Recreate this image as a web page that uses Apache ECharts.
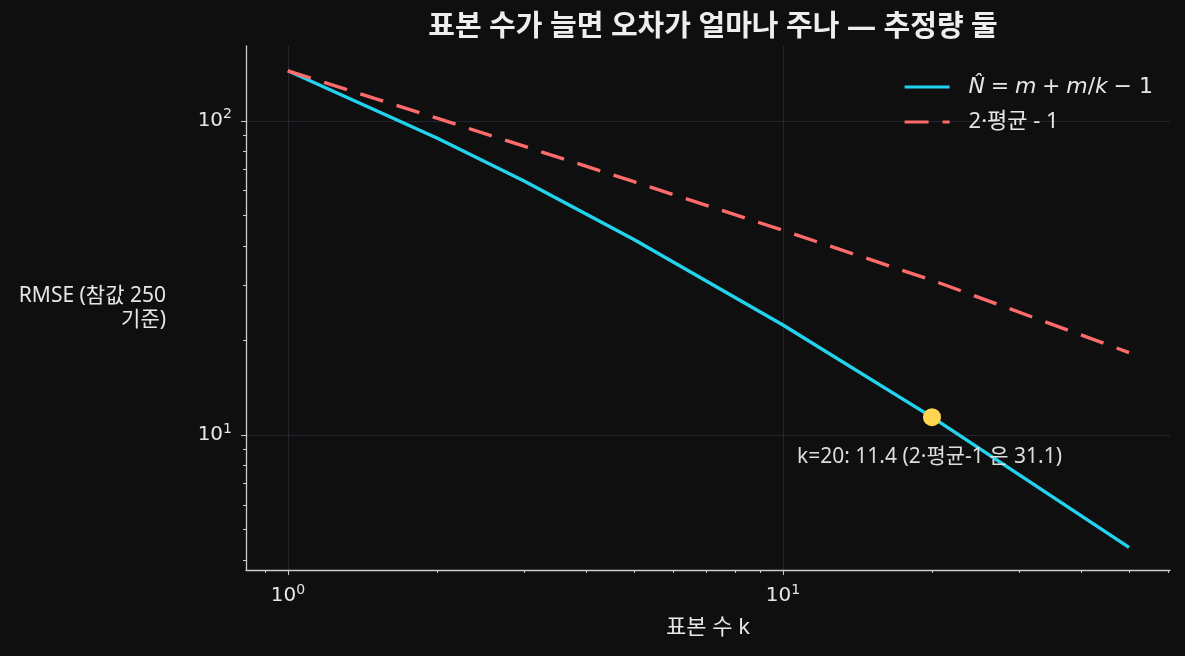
<!DOCTYPE html>
<html>
<head>
<meta charset="utf-8">
<title>표본 수와 RMSE</title>
<script src="https://cdn.jsdelivr.net/npm/echarts@6/dist/echarts.min.js"></script>
<style>
  html, body { margin: 0; padding: 0; background: #0f0f0f; }
  #chart { width: 1185px; height: 656px; }
</style>
</head>
<body>
<div id="chart"></div>
<script>
// sample sizes and RMSE (true value 250)
var kValues = [1, 2, 3, 5, 10, 20, 50];
var rmseTank = [144.3, 88.2, 64.3, 41.9, 22.4, 11.4, 4.39];
var rmseMean = [144.3, 101.9, 83.0, 64.0, 44.8, 31.1, 18.3];

// highlighted point
var markK = 20;
var markTank = 11.4;
var markMean = 31.1;

// axis ranges
var xMin = 0.823, xMax = 60.5;
var yMin = 3.72, yMax = 173;

// ticks (powers of ten get labels, the rest are minor)
var xMajorTicks = [1, 10];
var xTickExp = ['0', '1'];
var xMinorTicks = [0.9, 2, 3, 4, 5, 6, 7, 8, 9, 20, 30, 40, 50, 60];
var yMajorTicks = [10, 100];
var yTickExp = ['1', '2'];
var yMinorTicks = [4, 5, 6, 7, 8, 9, 20, 30, 40, 50, 60, 70, 80, 90];

var tankName = 'N̂ = m + m/k − 1';
var meanName = '2·평균 - 1';

var CJK = "'Noto Sans', 'Noto Sans CJK KR', sans-serif";
var TEXT = '#e6e6e6';
var AXIS = '#cccccc';
var GRID = '#25252f';

function toLog(arr) {
    return arr.map(function (v) { return Math.log10(v); });
}

// 10^n labels, looked up by tick value
function powLabel(majors, exps) {
    var logs = toLog(majors);
    return function (value) {
        var exp = '';
        for (var i = 0; i < logs.length; i++) {
            if (Math.abs(logs[i] - value) < 1e-6) exp = exps[i];
        }
        return '{b|10}{s|' + exp + '}';
    };
}

var powRich = {
    b: { fontFamily: 'DejaVu Sans', fontSize: 20, color: TEXT, lineHeight: 26 },
    s: { fontFamily: 'DejaVu Sans', fontSize: 14, color: TEXT, verticalAlign: 'top', lineHeight: 14 }
};

function pairs(xs, ys) {
    return xs.map(function (x, i) { return [x, ys[i]]; });
}

var chart = echarts.init(document.getElementById('chart'), null, { renderer: 'canvas' });

var option = {
    backgroundColor: '#0f0f0f',
    animation: false,
    title: {
        text: '표본 수가 늘면 오차가 얼마나 주나 — 추정량 둘',
        left: 708,
        top: 8,
        textAlign: 'center',
        textStyle: { color: '#eeeeee', fontSize: 29, fontWeight: 'bold', fontFamily: CJK }
    },
    legend: {
        data: [tankName, meanName],
        orient: 'vertical',
        left: 903,
        top: 74,
        padding: 0,
        itemWidth: 45,
        itemHeight: 14,
        itemGap: 9,
        itemStyle: { opacity: 0 },
        lineStyle: { width: 3.2 },
        formatter: function (name) {
            if (name === tankName) {
                return '{i|N̂} {m|=} {i|m} {m|+} {i|m}{m|/}{i|k} {m|− 1}';
            }
            return name;
        },
        textStyle: {
            color: TEXT,
            fontSize: 22,
            lineHeight: 26,
            fontFamily: CJK,
            padding: [0, 0, 0, 14],
            rich: {
                i: { fontFamily: 'DejaVu Sans', fontStyle: 'italic', fontSize: 22, color: TEXT, lineHeight: 26 },
                m: { fontFamily: 'DejaVu Sans', fontSize: 22, color: TEXT, lineHeight: 26 }
            }
        }
    },
    grid: { left: 246, right: 15, top: 46, bottom: 86 },
    xAxis: [
        // data axis
        { type: 'log', logBase: 10, min: xMin, max: xMax, show: false },
        // major ticks, labels, grid
        {
            type: 'value', position: 'bottom',
            min: Math.log10(xMin), max: Math.log10(xMax),
            name: '표본 수 k', nameLocation: 'middle', nameGap: 58, nameMoveOverlap: false,
            nameTextStyle: { color: TEXT, fontSize: 22, fontFamily: CJK, verticalAlign: 'middle' },
            axisLine: { show: true, onZero: false, lineStyle: { color: AXIS, width: 1.3 } },
            axisTick: { show: true, length: 5, customValues: toLog(xMajorTicks), lineStyle: { color: AXIS } },
            axisLabel: { customValues: toLog(xMajorTicks), formatter: powLabel(xMajorTicks, xTickExp), rich: powRich, margin: 13 },
            splitLine: { show: true, lineStyle: { color: GRID, width: 1 } }
        },
        // minor ticks
        {
            type: 'value', position: 'bottom',
            min: Math.log10(xMin), max: Math.log10(xMax),
            axisLine: { show: false, onZero: false },
            axisTick: { show: true, length: 3, customValues: toLog(xMinorTicks), lineStyle: { color: AXIS } },
            axisLabel: { show: false },
            splitLine: { show: false }
        }
    ],
    yAxis: [
        { type: 'log', logBase: 10, min: yMin, max: yMax, show: false },
        {
            type: 'value', position: 'left',
            min: Math.log10(yMin), max: Math.log10(yMax),
            name: 'RMSE (참값 250\n기준)', nameLocation: 'middle', nameRotate: 0, nameGap: 80, nameMoveOverlap: false,
            nameTextStyle: { color: TEXT, fontSize: 21, fontFamily: CJK, align: 'right', verticalAlign: 'middle', lineHeight: 24 },
            axisLine: { show: true, onZero: false, lineStyle: { color: AXIS, width: 1.3 } },
            axisTick: { show: true, length: 5, customValues: toLog(yMajorTicks), lineStyle: { color: AXIS } },
            axisLabel: { customValues: toLog(yMajorTicks), formatter: powLabel(yMajorTicks, yTickExp), rich: powRich, margin: 14 },
            splitLine: { show: true, lineStyle: { color: GRID, width: 1 } }
        },
        {
            type: 'value', position: 'left',
            min: Math.log10(yMin), max: Math.log10(yMax),
            axisLine: { show: false, onZero: false },
            axisTick: { show: true, length: 3, customValues: toLog(yMinorTicks), lineStyle: { color: AXIS } },
            axisLabel: { show: false },
            splitLine: { show: false }
        }
    ],
    series: [
        {
            name: tankName,
            type: 'line',
            xAxisIndex: 0, yAxisIndex: 0,
            data: pairs(kValues, rmseTank),
            symbol: 'none',
            lineStyle: { color: '#22d3ee', width: 3.4 },
            itemStyle: { color: '#22d3ee' },
            z: 3
        },
        {
            name: meanName,
            type: 'line',
            xAxisIndex: 0, yAxisIndex: 0,
            data: pairs(kValues, rmseMean),
            symbol: 'none',
            lineStyle: { color: '#ff6b6b', width: 3.4, type: [24, 14] },
            itemStyle: { color: '#ff6b6b' },
            z: 4
        },
        {
            name: 'mark',
            type: 'scatter',
            xAxisIndex: 0, yAxisIndex: 0,
            data: [[markK, markTank]],
            symbolSize: 18,
            itemStyle: { color: '#ffd54f', opacity: 1 },
            z: 5,
            label: {
                show: true,
                position: 'inside',
                offset: [-135, 40],
                align: 'left',
                verticalAlign: 'middle',
                color: '#dddddd',
                fontSize: 21,
                fontFamily: CJK,
                formatter: 'k=' + markK + ': ' + markTank + ' (2·평균-1 은 ' + markMean + ')'
            }
        }
    ]
};

chart.setOption(option);
window.addEventListener('resize', function () { chart.resize(); });
</script>
</body>
</html>
